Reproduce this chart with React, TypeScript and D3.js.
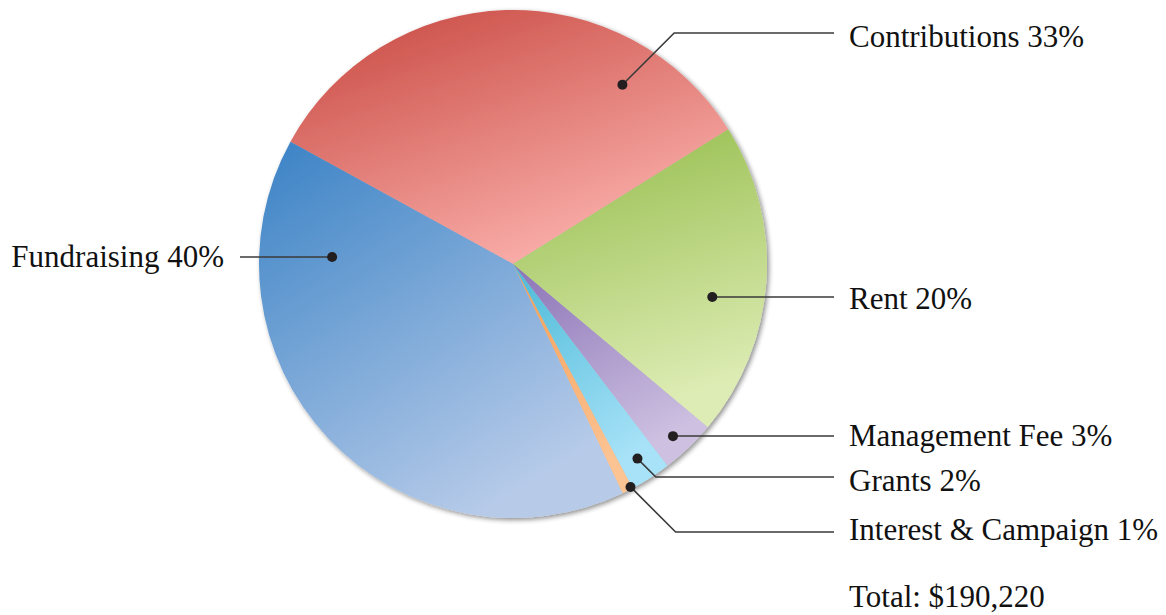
import React from 'react';
import * as d3 from 'd3';

// shares (percent of total)
const categories = ['Contributions', 'Rent', 'Management Fee', 'Grants', 'Interest & Campaign', 'Fundraising'];
const shares = [33.1, 20.0, 3.5, 2.6, 0.7, 40.1];
const shownPct = ['33%', '20%', '3%', '2%', '1%', '40%'];
const totalLabel = 'Total: $190,220';

// gradient stops per slice: [dark, light]
const colorStops = [
  ['#c6453d', '#fbb0ac'],
  ['#93bb48', '#ddecb4'],
  ['#8b73b6', '#cdc0e1'],
  ['#4cbad7', '#a8e2f8'],
  ['#f49d52', '#fcc393'],
  ['#3a82c5', '#b7cbe9'],
];
// gradient end x (start is top-left of the slice box)
const gradX2 = [0.6, 0.25, 0.5, 0.5, 0.5, 0.6];

// leader layout: dot angle (deg), dot radius, line y, text baseline, side
const leaders = [
  { ang: 31.4, r: 210, lineY: 33, textY: 47, side: 'right' },
  { ang: 99.4, r: 202, lineY: 297, textY: 309, side: 'right' },
  { ang: 137.1, r: 235, lineY: 436, textY: 446, side: 'right' },
  { ang: 147.4, r: 231, lineY: 477, textY: 491, side: 'right' },
  { ang: 152.2, r: 252, lineY: 532, textY: 540, side: 'right' },
  { ang: -87.8, r: 181, lineY: 257, textY: 267, side: 'left' },
];

const W = 1166;
const H = 615;
const cx = 513;
const cy = 264;
const R = 254;
const startDeg = -61.2;
const lineEndX = 834;
const textX = 849;
const font = '"Liberation Serif", "Times New Roman", serif';
const fontSize = 31;

export default function App() {
  const pie = d3.pie<number>().sort(null).value(d => d)
    .startAngle((startDeg * Math.PI) / 180)
    .endAngle((startDeg * Math.PI) / 180 + 2 * Math.PI);
  const arcs = pie(shares);
  const arc = d3.arc<d3.PieArcDatum<number>>().innerRadius(0).outerRadius(R);

  const toXY = (deg: number, r: number) => {
    const a = (deg * Math.PI) / 180;
    return [cx + r * Math.sin(a), cy - r * Math.cos(a)];
  };

  return (
    <div style={{ position: 'absolute', left: 0, top: 0 }}>
      <svg width={W} height={H} style={{ display: 'block', background: '#fff' }}>
        <defs>
          {colorStops.map((c, i) => (
            <linearGradient key={i} id={`g${i}`} x1="0" y1="0" x2={gradX2[i]} y2="1">
              <stop offset="0%" stopColor={c[0]} />
              <stop offset="100%" stopColor={c[1]} />
            </linearGradient>
          ))}
          <filter id="shadow" x="-10%" y="-10%" width="120%" height="120%">
            <feGaussianBlur in="SourceAlpha" stdDeviation="2.5" />
            <feOffset dx="1.5" dy="1.5" result="b" />
            <feComponentTransfer>
              <feFuncA type="linear" slope="0.45" />
            </feComponentTransfer>
            <feMerge>
              <feMergeNode />
              <feMergeNode in="SourceGraphic" />
            </feMerge>
          </filter>
        </defs>

        <g transform={`translate(${cx},${cy})`} filter="url(#shadow)">
          {arcs.map((a, i) => (
            <path key={categories[i]} d={arc(a) || ''} fill={`url(#g${i})`} />
          ))}
        </g>

        {leaders.map((l, i) => {
          const [dx, dy] = toXY(l.ang, l.r);
          let pts: number[][];
          if (l.side === 'right') {
            const ex = dx + Math.abs(l.lineY - dy);
            pts = [[dx, dy], [ex, l.lineY], [lineEndX, l.lineY]];
          } else {
            pts = [[dx, dy], [240, l.lineY]];
          }
          const line = d3.line();
          return (
            <g key={categories[i]}>
              <path d={line(pts as [number, number][]) || ''} fill="none" stroke="#3a3a3a" strokeWidth={1.6} />
              <circle cx={dx} cy={dy} r={5} fill="#231f20" />
              <text
                x={l.side === 'right' ? textX : 224}
                y={l.textY}
                textAnchor={l.side === 'right' ? 'start' : 'end'}
                fontFamily={font}
                fontSize={fontSize}
                fill="#111"
              >
                {`${categories[i]} ${shownPct[i]}`}
              </text>
            </g>
          );
        })}

        <text x={textX} y={607} fontFamily={font} fontSize={fontSize} fill="#111">{totalLabel}</text>
      </svg>
    </div>
  );
}
